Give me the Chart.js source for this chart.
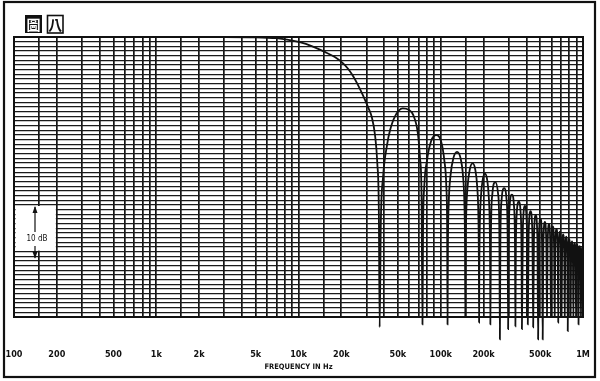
<!DOCTYPE html>
<html>
<head>
<meta charset="utf-8">
<script src="https://cdn.jsdelivr.net/npm/chart.js@4.4.1/dist/chart.umd.min.js"></script>
<style>
html,body{margin:0;padding:0;background:#fff;}
canvas{display:block;}
</style>
</head>
<body>
<canvas id="c" width="600" height="381"></canvas>
<script>
// ---- data ----
// frequency (kHz) and level (dB) of the plotted response
const freqKHz = [
  0.1, 1, 3, 5, 7, 8.5, 10.2, 12.5, 15.3, 18, 20.5, 22.3, 24, 26, 28.4, 31, 32.7, 34.5, 35.8, 36.7, 37.2,
  37.9, 39.3, 42, 44, 47.5, 54, 59.5, 64, 69, 71.5, 73.3, 74.4,
  75.1, 76.6, 80, 85.6, 93, 100.4, 106, 109.4, 110.9, 111.6,
  112.3, 113.8, 117.2, 122.8, 130.2, 137.6, 143.2, 146.6, 148.1, 148.8,
  149.5, 151, 154.4, 160, 167.4, 174.8, 180.4, 183.8, 185.3, 186,
  186.7, 188.2, 191.6, 197.2, 204.6, 212, 217.6, 221, 222.5, 223.2,
  225.4, 230.6, 241.8, 253, 258.2, 260.4,
  262.6, 267.8, 279, 290.2, 295.4, 297.6,
  299.8, 305, 316.2, 327.4, 332.6, 334.8,
  337, 342.2, 353.4, 364.6, 369.8, 372,
  377.6, 390.6, 403.6, 409.2,
  414.8, 427.8, 440.8, 446.4,
  452, 465, 478, 483.6,
  489.2, 502.2, 515.2, 520.8,
  526.4, 539.4, 552.4, 558,
  563.6, 576.6, 589.6, 595.2,
  600.8, 613.8, 626.8, 632.4,
  638, 651, 664, 669.6,
  675.2, 688.2, 701.2, 706.8,
  712.4, 725.4, 738.4, 744,
  749.6, 762.6, 775.6, 781.2,
  786.8, 799.8, 812.8, 818.4,
  824, 837, 850, 855.6,
  861.2, 874.2, 887.2, 892.8,
  898.4, 911.4, 924.4, 930,
  935.6, 948.6, 961.6, 967.2,
  972.8, 985.8, 1000
];
const levelDb = [
  0, 0, 0, -0.05, -0.25, -0.6, -1.1, -2.0, -3.2, -4.3, -5.6, -6.8, -8.2, -10.1, -12.5, -15.2, -17.1, -21, -27, -37, -62.2,
  -40, -30, -23, -20, -17.1, -15.3, -15.6, -16.7, -20.6, -26, -34, -61.6,
  -41, -32, -26.5, -22.3, -21.0, -22.3, -26.5, -32, -41, -61.6,
  -44.6, -35.6, -29.6, -25.9, -24.6, -25.9, -29.6, -35.6, -44.6, -60,
  -47.1, -38.1, -32.1, -28.4, -27.1, -28.4, -32.1, -38.1, -47.1, -61.2,
  -49.3, -40.3, -34.3, -30.6, -29.3, -30.6, -34.3, -40.3, -49.3, -61.6,
  -42, -33.6, -31.1, -33.6, -42, -64.8,
  -43.4, -34.9, -32.4, -34.9, -43.4, -62.6,
  -44.8, -36.3, -33.8, -36.3, -44.8, -62,
  -46.3, -37.8, -35.3, -37.8, -46.3, -62.6,
  -41.2, -36.2, -41.2, -61.6,
  -42.3, -37.3, -42.3, -62.2,
  -43.2, -38.2, -43.2, -64.8,
  -43.9, -38.9, -43.9, -64.8,
  -44.6, -39.6, -44.6, -60,
  -45.1, -40.1, -45.1, -60,
  -45.6, -40.6, -45.6, -60,
  -46.1, -41.1, -46.1, -61.2,
  -46.7, -41.7, -46.7, -60,
  -47.3, -42.3, -47.3, -60,
  -47.8, -42.8, -47.8, -63,
  -48.3, -43.3, -48.3, -60,
  -48.8, -43.8, -48.8, -60,
  -49.2, -44.2, -49.2, -60,
  -49.5, -44.5, -49.5, -61.6,
  -49.8, -44.8, -49.8, -60,
  -50.1, -45.1, -47.5
];
// axis / grid definitions
const decadesHz = [100, 1000, 10000, 100000];
const gridMultipliers = [1, 1.5, 2, 3, 4, 5, 6, 7, 8, 9];
const tickValuesHz = [100, 200, 500, 1000, 2000, 5000, 10000, 20000, 50000, 100000, 200000, 500000, 1000000];
const tickLabels = ['100', '200', '500', '1k', '2k', '5k', '10k', '20k', '50k', '100k', '200k', '500k', '1M'];
const yMinDb = -60, yMaxDb = 0;
const axisTitle = 'FREQUENCY IN Hz';
const figureLabel = ['圖', '八'];
const scaleMark = { text: '10 dB', fromHz: 100, toHz: 200, topDb: -36, bottomDb: -46 };

// ---- build chart ----
const points = freqKHz.map((f, i) => ({ x: f * 1000, y: levelDb[i] }));
const xGrid = [];
decadesHz.forEach(d => gridMultipliers.forEach(m => xGrid.push(d * m)));
xGrid.push(1000000);
const yGrid = [];
for (let v = yMinDb; v <= yMaxDb; v++) yGrid.push(v);

const decor = {
  id: 'decor',
  beforeDatasetsDraw(chart) {
    const ctx = chart.ctx, xs = chart.scales.x, ys = chart.scales.y;
    const x0 = xs.getPixelForValue(scaleMark.fromHz), x1 = xs.getPixelForValue(scaleMark.toHz);
    const y0 = ys.getPixelForValue(scaleMark.topDb), y1 = ys.getPixelForValue(scaleMark.bottomDb);
    ctx.save();
    ctx.fillStyle = '#fff';
    ctx.fillRect(x0 + 1.5, y0 + 1, x1 - x0 - 2.5, y1 - y0 - 2);
    const ax = x0 + 21;
    ctx.strokeStyle = '#111';
    ctx.fillStyle = '#111';
    ctx.lineWidth = 1.2;
    ctx.beginPath();
    ctx.moveTo(ax, y0 + 2); ctx.lineTo(ax, y0 + 27);
    ctx.moveTo(ax, y0 + 41); ctx.lineTo(ax, y1 + 6);
    ctx.stroke();
    ctx.beginPath();
    ctx.moveTo(ax, y0 + 1); ctx.lineTo(ax - 2.5, y0 + 8); ctx.lineTo(ax + 2.5, y0 + 8); ctx.closePath();
    ctx.fill();
    ctx.beginPath();
    ctx.moveTo(ax, y1 + 7); ctx.lineTo(ax - 2.5, y1); ctx.lineTo(ax + 2.5, y1); ctx.closePath();
    ctx.fill();
    ctx.font = '8px "DejaVu Sans Condensed", "DejaVu Sans", sans-serif';
    ctx.textAlign = 'center';
    ctx.textBaseline = 'middle';
    ctx.fillText(scaleMark.text, ax + 2, y0 + 34);
    ctx.restore();
  },
  afterDraw(chart) {
    const ctx = chart.ctx, a = chart.chartArea;
    ctx.save();
    ctx.strokeStyle = '#111';
    ctx.lineWidth = 2;
    ctx.strokeRect(a.left, a.top, a.right - a.left, a.bottom - a.top);
    // outer frame
    ctx.lineWidth = 2.2;
    ctx.strokeRect(4, 2, 591, 375);
    // figure label
    ctx.fillStyle = '#111';
    ctx.fillRect(25, 15, 17, 18);
    ctx.lineWidth = 1.6;
    ctx.strokeRect(47.5, 15.5, 15.5, 17.5);
    ctx.font = 'bold 14px "Noto Sans CJK TC", "Noto Sans CJK SC", sans-serif';
    ctx.textAlign = 'center';
    ctx.textBaseline = 'middle';
    ctx.fillStyle = '#fff';
    ctx.fillText(figureLabel[0], 33.5, 24.5);
    ctx.fillStyle = '#111';
    ctx.fillText(figureLabel[1], 55.3, 24.5);
    ctx.restore();
  }
};

new Chart(document.getElementById('c'), {
  type: 'line',
  data: {
    datasets: [{
      data: points,
      borderColor: '#111',
      borderWidth: 1.8,
      pointRadius: 0,
      fill: false,
      cubicInterpolationMode: 'monotone',
      clip: { left: 0, top: 2, right: 0, bottom: 30 }
    }]
  },
  options: {
    responsive: false,
    animation: false,
    devicePixelRatio: 1,
    layout: { padding: { left: 14, right: 17, top: 37, bottom: 0 } },
    plugins: { legend: { display: false }, tooltip: { enabled: false } },
    scales: {
      x: {
        type: 'logarithmic',
        min: 100,
        max: 1000000,
        afterBuildTicks(scale) { scale.ticks = xGrid.map(v => ({ value: v })); },
        afterFit(scale) { scale.height = 64; scale.paddingLeft = 0; scale.paddingRight = 0; },
        grid: { color: '#151515', lineWidth: 1.7, drawTicks: false },
        border: { display: false },
        ticks: {
          autoSkip: false,
          maxRotation: 0,
          padding: 32,
          color: '#111',
          font: { family: '"DejaVu Sans Condensed", "DejaVu Sans", sans-serif', size: 9, weight: 'bold' },
          callback(value) {
            const i = tickValuesHz.indexOf(value);
            return i >= 0 ? tickLabels[i] : '';
          }
        },
        title: {
          display: true,
          text: axisTitle,
          color: '#111',
          padding: { top: 0, bottom: 9 },
          font: { family: '"DejaVu Sans Condensed", "DejaVu Sans", sans-serif', size: 7.5, weight: 'bold' }
        }
      },
      y: {
        type: 'linear',
        min: yMinDb,
        max: yMaxDb,
        afterBuildTicks(scale) { scale.ticks = yGrid.map(v => ({ value: v })); },
        afterFit(scale) { scale.width = 0; scale.paddingTop = 0; scale.paddingBottom = 0; },
        grid: { color: '#1a1a1a', lineWidth: 1.35, drawTicks: false },
        border: { display: false },
        ticks: { display: false }
      }
    }
  },
  plugins: [decor]
});
</script>
</body>
</html>
